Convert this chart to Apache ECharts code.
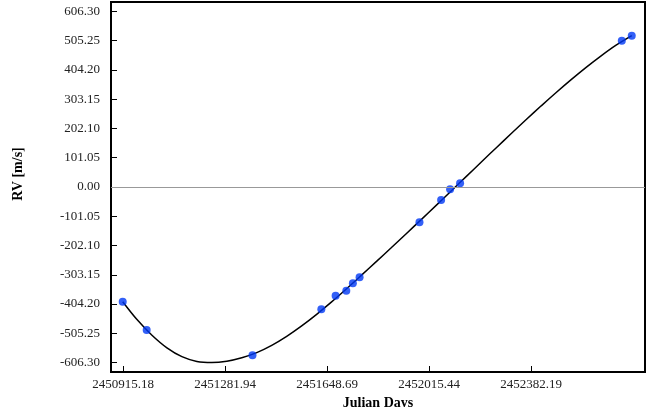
<!DOCTYPE html>
<html>
<head>
<meta charset="utf-8">
<script src="https://cdn.jsdelivr.net/npm/echarts@6/dist/echarts.min.js"></script>
<style>html,body{margin:0;padding:0;background:#fff;}#c{width:664px;height:407px;}</style>
</head>
<body>
<div id="c"></div>
<script>
// Observed radial velocities
const obsJD = [2450914.1, 2451000.2, 2451380.4, 2451627.9, 2451679.2, 2451717.6, 2451741.2, 2451765.3, 2451980.5, 2452058.3, 2452090.6, 2452126.5, 2452707.6, 2452743.4];
const obsRV = [-396.3, -494.0, -581.4, -422.5, -375.5, -358.3, -332.7, -312.0, -122.0, -44.9, -7.9, 12.8, 505.4, 522.7];
// Fitted model curve
const fitJD = [2450914.1, 2450965.4, 2451019.2, 2451073.0, 2451126.8, 2451180.6, 2451234.4, 2451288.2, 2451342.0, 2451395.8, 2451449.6, 2451503.4, 2451557.2, 2451611.0, 2451664.8, 2451718.6, 2451772.4, 2451826.2, 2451880.0, 2451933.9, 2451987.7, 2452041.5, 2452095.3, 2452149.1, 2452202.9, 2452256.7, 2452310.5, 2452364.3, 2452418.1, 2452471.9, 2452525.7, 2452579.5, 2452633.3, 2452687.1, 2452743.4];
const fitRV = [-396.3, -458.0, -512.0, -555.5, -586.0, -602.5, -606.3, -601.5, -589.5, -572.0, -547.0, -516.0, -480.0, -440.0, -397.0, -351.5, -304.5, -257.0, -209.0, -160.5, -111.7, -62.5, -13.0, 36.7, 86.4, 135.8, 184.8, 233.1, 280.4, 326.4, 370.8, 413.2, 453.1, 489.9, 522.9];
// Tick labels
const xTicks = [2450915.18, 2451281.94, 2451648.69, 2452015.44, 2452382.19];
const yTicks = [-606.30, -505.25, -404.20, -303.15, -202.10, -101.05, 0.00, 101.05, 202.10, 303.15, 404.20, 505.25, 606.30];

const chart = echarts.init(document.getElementById('c'), null, {renderer: 'canvas'});
const font = "'Liberation Serif', 'Times New Roman', serif";
chart.setOption({
  animation: false,
  grid: {left: 111, right: 19, top: 2, bottom: 35, outerBoundsMode: 'none', containLabel: false, show: true, borderColor: '#000', borderWidth: 2, backgroundColor: 'transparent'},
  xAxis: {
    type: 'value', min: 2450872, max: 2452791,
    name: 'Julian Days', nameLocation: 'middle', nameGap: 16,
    nameTextStyle: {fontFamily: font, fontWeight: 'bold', fontSize: 14, color: '#000'},
    axisLine: {show: true, onZero: false, lineStyle: {color: '#000', width: 2}},
    axisTick: {show: true, inside: true, length: 6, customValues: xTicks, lineStyle: {color: '#000', width: 1}},
    axisLabel: {customValues: xTicks, formatter: v => v.toFixed(2), fontFamily: font, fontSize: 13, color: '#222', margin: 6},
    splitLine: {show: false}
  },
  yAxis: {
    type: 'value', min: -639, max: 639,
    name: 'RV [m/s]', nameLocation: 'middle', nameGap: 86, nameRotate: 90,
    nameTextStyle: {fontFamily: font, fontWeight: 'bold', fontSize: 14, color: '#000', padding: [0, 0, 0, 26]},
    axisLine: {show: true, onZero: false, lineStyle: {color: '#000', width: 2}},
    axisTick: {show: true, inside: true, length: 6, customValues: yTicks, lineStyle: {color: '#000', width: 1}},
    axisLabel: {customValues: yTicks, formatter: v => v.toFixed(2), fontFamily: font, fontSize: 13, color: '#222', margin: 11},
    splitLine: {show: false}
  },
  series: [
    {
      type: 'line', data: fitJD.map((x, i) => [x, fitRV[i]]), smooth: 0.3, symbol: 'none',
      lineStyle: {color: '#000', width: 1.5}, z: 2,
      markLine: {silent: true, symbol: 'none', label: {show: false}, lineStyle: {color: '#999', width: 1, type: 'solid'}, data: [{yAxis: 0}]}
    },
    {
      type: 'scatter', data: obsJD.map((x, i) => [x, obsRV[i]]), symbol: 'circle', symbolSize: 8,
      itemStyle: {color: '#0038f5'}, z: 3
    }
  ]
});
</script>
</body>
</html>
